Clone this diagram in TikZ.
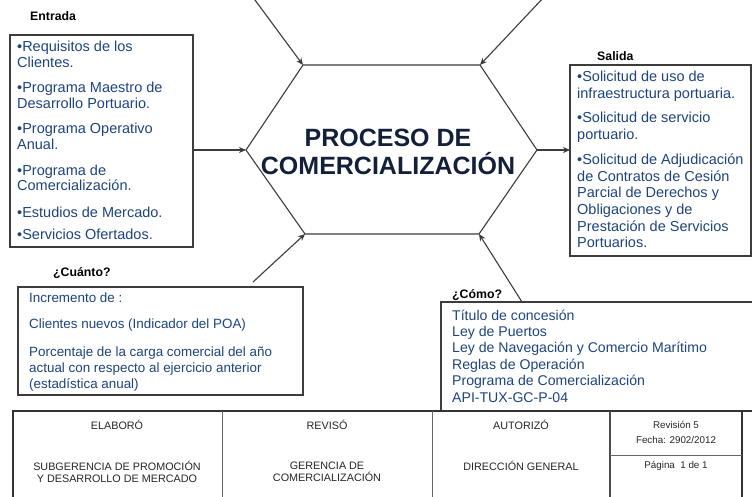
\documentclass[tikz,border=0pt]{standalone}
\usepackage{fontspec}
\setmainfont{Liberation Sans}
\usetikzlibrary{arrows.meta}
\definecolor{bodyblue}{RGB}{30,68,126}
\definecolor{navy}{RGB}{20,32,58}
\definecolor{linegray}{RGB}{60,60,60}
\begin{document}
\begin{tikzpicture}[x=1pt,y=-1pt,
  conn/.style={draw=linegray,line width=1.1pt},
  arr/.style={conn,-{Stealth[length=7pt,width=6pt]}},
  boxline/.style={draw=linegray,line width=1.2pt},
  item/.style={anchor=west,inner sep=0pt,text=bodyblue,font=\fontsize{14.5}{15.5}\selectfont,align=left},
  lbl/.style={anchor=west,inner sep=0pt,font=\bfseries\fontsize{12.3}{14}\selectfont},
  cell/.style={inner sep=0pt,text=black!85,font=\fontsize{10.8}{12.5}\selectfont,align=center}]
\useasboundingbox (0,0) rectangle (752,497);
\fill[white] (0,0) rectangle (752,497);

% hexagon
\coordinate (h1) at (303,65);
\coordinate (h2) at (480,65);
\coordinate (h3) at (537,150);
\coordinate (h4) at (479,234);
\coordinate (h5) at (305,234);
\coordinate (h6) at (246,150);
\draw[conn] (h1) -- (h2) -- (h3) -- (h4) -- (h5) -- (h6) -- cycle;
\node[inner sep=0pt,text=navy,font=\bfseries\fontsize{25}{28.5}\selectfont,align=center] (proc) at (388,152) {PROCESO DE\\COMERCIALIZACIÓN};

% top arrows
\coordinate (tl) at (252,-4);
\coordinate (tr) at (545,-4);
\draw[arr] (tl) -- (h1);
\draw[arr] (tr) -- (h2);

% Entrada
\node[lbl] (lentrada) at (30,16) {Entrada};
\draw[boxline] (10,35) rectangle (193,247);
\coordinate (ein) at (193,150);
\draw[arr] (ein) -- (h6);
\node[item] (e1) at (17,54.5) {•Requisitos de los\\Clientes.};
\node[item] (e2) at (17,95.5) {•Programa Maestro de\\Desarrollo Portuario.};
\node[item] (e3) at (17,136.5) {•Programa Operativo\\Anual.};
\node[item] (e4) at (17,178) {•Programa de\\Comercialización.};
\node[item] (e5) at (17,212) {•Estudios de Mercado.};
\node[item] (e6) at (17,234) {•Servicios Ofertados.};

% Salida
\node[lbl] (lsalida) at (597,56) {Salida};
\draw[boxline] (570,65) rectangle (751,256);
\coordinate (sin) at (570,150);
\draw[arr] (h3) -- (sin);
\node[item,font=\fontsize{14.5}{16.6}\selectfont] (s1) at (577,86.5) {•Solicitud de uso de\\infraestructura portuaria.};
\node[item,font=\fontsize{14.5}{16.6}\selectfont] (s2) at (577,127) {•Solicitud de servicio\\portuario.};
\node[item,font=\fontsize{14.5}{16.6}\selectfont] (s3) at (577,201) {•Solicitud de Adjudicación\\de Contratos de Cesión\\Parcial de Derechos y\\Obligaciones y de\\Prestación de Servicios\\Portuarios.};

% Cuanto
\node[lbl] (lcuanto) at (53,273) {¿Cuánto?};
\draw[boxline] (18,287) rectangle (303,395);
\coordinate (cu) at (253,282);
\draw[arr] (cu) -- (h5);
\node[item,font=\fontsize{13.4}{16}\selectfont] (c1) at (29,298) {Incremento de :};
\node[item,font=\fontsize{13.4}{16}\selectfont] (c2) at (29,325) {Clientes nuevos (Indicador del POA)};
\node[item,font=\fontsize{13.4}{16}\selectfont] (c3) at (29,369) {Porcentaje de la carga comercial del año\\actual con respecto al ejercicio anterior\\(estadística anual)};

% Como
\node[lbl] (lcomo) at (452,295) {¿Cómo?};
\draw[boxline] (441,411) -- (441,302) -- (756,302);
\coordinate (co) at (522,302);
\draw[arr] (co) -- (h4);
\node[item,font=\fontsize{14.1}{16.4}\selectfont] (m1) at (452,356) {Título de concesión\\Ley de Puertos\\Ley de Navegación y Comercio Marítimo\\Reglas de Operación\\Programa de Comercialización\\API-TUX-GC-P-04};

% table
\draw[draw=black!80,line width=1.8pt] (13,505) -- (13,411) -- (756,411);
\draw[draw=black!80,line width=1.6pt] (742,411) -- (742,505);
\draw[draw=black!60,line width=0.8pt] (222,411) -- (222,505);
\draw[draw=black!60,line width=0.8pt] (432,411) -- (432,505);
\draw[draw=black!70,line width=1.2pt] (610,411) -- (610,505);
\draw[draw=black!60,line width=0.8pt] (610,455) -- (742,455);
\node[cell] (t1) at (117,425) {ELABORÓ};
\node[cell] (t2) at (327,425) {REVISÓ};
\node[cell] (t3) at (521,425) {AUTORIZÓ};
\node[cell,font=\fontsize{9.8}{15}\selectfont] (t4) at (676,432.5) {Revisión 5\\Fecha: 2902/2012};
\node[cell] (b1) at (117,472) {SUBGERENCIA DE PROMOCIÓN\\Y DESARROLLO DE MERCADO};
\node[cell] (b2) at (327,472) {GERENCIA DE\\COMERCIALIZACIÓN};
\node[cell] (b3) at (521,466) {DIRECCIÓN GENERAL};
\node[cell,font=\fontsize{9.8}{12}\selectfont] (b4) at (676,466) {Página\ \ 1 de 1};
\end{tikzpicture}
\end{document}
